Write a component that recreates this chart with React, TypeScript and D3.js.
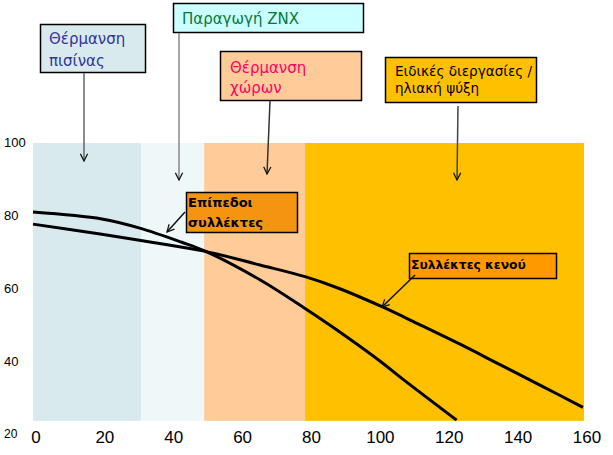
import React, { useEffect, useRef } from 'react';
import * as d3 from 'd3';

// axis labels
const xTicks = [0, 20, 40, 60, 80, 100, 120, 140, 160];
const yTicks = [100, 80, 60, 40, 20];

// application bands (temperature ranges)
const bandNames = ['pool', 'dhw', 'space', 'process'];
const bandStart = [0, 31.4, 49.7, 79];
const bandEnd = [31.4, 49.7, 79, 160];
const bandColors = ['#d8eaed', '#eff8f8', '#ffcc99', '#ffc000'];

// efficiency curves
const flatX = [0, 20, 31, 43, 50, 66, 79, 87, 101, 107, 123];
const flatY = [80.8, 78.9, 76.4, 72.6, 70.1, 62.2, 54.4, 49.3, 39.8, 35.3, 23.8];
const vacuumX = [0, 19.5, 34, 49.7, 65.9, 79, 89.1, 101.5, 112.4, 124, 135.6, 147.2, 159.7];
const vacuumY = [77.5, 74.8, 72.6, 70.1, 66.3, 63.1, 59.8, 54.8, 49.9, 44.6, 39.0, 33.4, 27.3];

const W = 613;
const H = 455;
const plotTop = 100;
const plotBottom = 23.6;

const App = () => {
  const svgRef = useRef(null);

  useEffect(() => {
    const svg = d3.select(svgRef.current);
    svg.selectAll('*').remove();

    const x = d3.scaleLinear().domain([0, 160]).range([33, 584]);
    const y = d3.scaleLinear().domain([20, 100]).range([434, 142]);

    const defs = svg.append('defs');
    defs.append('marker')
      .attr('id', 'arrowDark')
      .attr('viewBox', '0 0 10 10')
      .attr('refX', 9).attr('refY', 5)
      .attr('markerWidth', 9).attr('markerHeight', 9)
      .attr('markerUnits', 'userSpaceOnUse')
      .attr('orient', 'auto')
      .append('path')
      .attr('d', 'M1,1 L9,5 L1,9')
      .attr('fill', 'none')
      .attr('stroke', '#111')
      .attr('stroke-width', 1.4);

    // bands
    svg.append('g').selectAll('rect')
      .data(bandNames)
      .enter()
      .append('rect')
      .attr('x', (d, i) => x(bandStart[i]))
      .attr('y', y(plotTop) + 1)
      .attr('width', (d, i) => x(bandEnd[i]) - x(bandStart[i]))
      .attr('height', y(plotBottom) - y(plotTop) - 1)
      .attr('fill', (d, i) => bandColors[i]);

    // curves
    const drawLine = d3.line()
      .x(d => x(d[0]))
      .y(d => y(d[1]))
      .curve(d3.curveCatmullRom.alpha(0.5));

    const flat = flatX.map((v, i) => [v, flatY[i]]);
    const vacuum = vacuumX.map((v, i) => [v, vacuumY[i]]);

    svg.append('g').selectAll('path')
      .data([flat, vacuum])
      .enter()
      .append('path')
      .attr('d', d => drawLine(d))
      .attr('fill', 'none')
      .attr('stroke', '#000')
      .attr('stroke-width', 3);

    // axis labels
    svg.append('g').selectAll('text')
      .data(xTicks)
      .enter()
      .append('text')
      .attr('x', d => x(d) + 3)
      .attr('y', 437)
      .attr('dy', '0.35em')
      .attr('text-anchor', 'middle')
      .style('font-family', '"Liberation Sans", Arial, sans-serif')
      .style('font-size', '17px')
      .attr('fill', '#000')
      .text(d => d);

    svg.append('g').selectAll('text')
      .data(yTicks)
      .enter()
      .append('text')
      .attr('x', 4)
      .attr('y', d => y(d))
      .attr('dy', '0.35em')
      .style('font-family', '"Liberation Sans", Arial, sans-serif')
      .style('font-size', d => (d === 20 ? '12px' : '13px'))
      .attr('fill', '#000')
      .text(d => d);

    // annotation boxes
    const boxes = [
      { x: 40, y: 24, w: 105, h: 48, fill: '#d8eaed', color: '#333399', bold: false, size: 15, lines: ['Θέρμανση', 'πισίνας'], tx: 49, ty: [39, 61] },
      { x: 173, y: 3, w: 190, h: 29, fill: '#ccffff', color: '#007a3d', bold: false, size: 15, lines: ['Παραγωγή  ZNX'], tx: 182, ty: [19] },
      { x: 220, y: 51, w: 141, h: 49, fill: '#ffcc99', color: '#ff0066', bold: false, size: 15, lines: ['Θέρμανση', 'χώρων'], tx: 230, ty: [68, 88] },
      { x: 385, y: 57, w: 151, h: 45, fill: '#ffc000', color: '#000', bold: false, size: 13.6, lines: ['Ειδικές διεργασίες /', 'ηλιακή ψύξη'], tx: 395, ty: [71, 88] },
      { x: 186, y: 192, w: 111, h: 40, fill: '#f39510', color: '#000', bold: true, size: 13, lines: ['Επίπεδοι', 'συλλέκτες'], tx: 188, ty: [202, 222] },
      { x: 409, y: 253, w: 147, h: 25, fill: '#ff9900', color: '#000', bold: true, size: 12.3, lines: ['Συλλέκτες κενού'], tx: 411, ty: [265] },
    ];

    const boxG = svg.append('g').selectAll('g')
      .data(boxes)
      .enter()
      .append('g');

    boxG.append('rect')
      .attr('x', d => d.x + 0.5)
      .attr('y', d => d.y + 0.5)
      .attr('width', d => d.w)
      .attr('height', d => d.h)
      .attr('fill', d => d.fill)
      .attr('stroke', '#000')
      .attr('stroke-width', 1.5);

    boxG.each(function (d) {
      d3.select(this).selectAll('text')
        .data(d.lines)
        .enter()
        .append('text')
        .attr('x', d.tx)
        .attr('y', (l, i) => d.ty[i])
        .attr('dy', '0.35em')
        .style('font-family', '"DejaVu Sans", Verdana, sans-serif')
        .style('font-size', d.size + 'px')
        .style('font-weight', d.bold ? 'bold' : 'normal')
        .attr('fill', d.color)
        .text(l => l);
    });

    // arrows
    const arrows = [
      { x1: 84, y1: 73, x2: 84, y2: 161, color: '#666' },
      { x1: 179, y1: 33, x2: 179, y2: 180, color: '#888' },
      { x1: 270, y1: 101, x2: 267, y2: 174, color: '#333' },
      { x1: 458, y1: 106, x2: 457, y2: 180, color: '#444' },
      { x1: 185, y1: 212, x2: 167, y2: 232, color: '#111' },
      { x1: 415, y1: 275, x2: 382, y2: 307, color: '#111' },
    ];

    svg.append('g').selectAll('line')
      .data(arrows)
      .enter()
      .append('line')
      .attr('x1', d => d.x1)
      .attr('y1', d => d.y1)
      .attr('x2', d => d.x2)
      .attr('y2', d => d.y2)
      .attr('stroke', d => d.color)
      .attr('stroke-width', 1.5)
      .attr('marker-end', 'url(#arrowDark)');
  }, []);

  return (
    <svg
      ref={svgRef}
      width={W}
      height={H}
      viewBox={`0 0 ${W} ${H}`}
      style={{ position: 'absolute', left: 0, top: 0, background: '#fff' }}
    />
  );
};

export default App;
